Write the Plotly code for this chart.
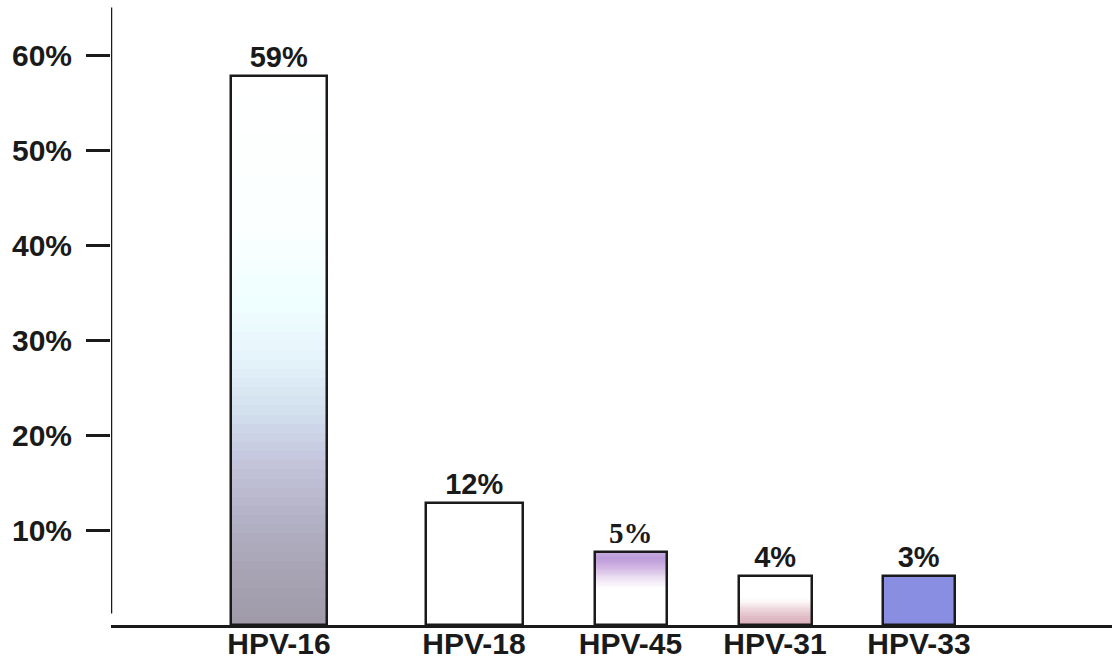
import numpy as np
import plotly.graph_objects as go

# ---- data ----
categories = ["HPV-16", "HPV-18", "HPV-45", "HPV-31", "HPV-33"]
bar_heights = [57.8, 12.8, 7.7, 5.2, 5.2]        # drawn height (% scale)
value_labels = ["59%", "12%", "5%", "4%", "3%"]   # printed labels
y_tick_vals = [10, 20, 30, 40, 50, 60]
y_tick_text = ["10%", "20%", "30%", "40%", "50%", "60%"]

# ---- layout (positions / sizes / styles) ----
bar_centers = [279, 474, 630.5, 775, 919]
bar_widths = [96, 97, 72, 73, 72]
X_LEFT, X_RIGHT = 111, 1112

# gradient colour stops: (fraction from bottom, colour)
gradients = [
    [[0, "#a09aa8"], [0.1, "#a8a4b4"], [0.2, "#b4b2c6"], [0.3, "#c4c6dc"], [0.4, "#d4e2f0"],
     [0.5, "#e8f6fc"], [0.6, "#f0ffff"], [0.72, "#fbffff"], [1, "#ffffff"]],
    [[0, "#ffffff"], [1, "#ffffff"]],
    [[0, "#ffffff"], [0.5, "#ffffff"], [0.65, "#ebdef2"], [0.8, "#cfb2e2"], [0.92, "#bb9ad8"], [1, "#c8aee0"]],
    [[0, "#d9aebb"], [0.15, "#e0bcc6"], [0.3, "#ecd4da"], [0.45, "#fbf4f5"], [0.55, "#ffffff"], [1, "#ffffff"]],
    [[0, "#8a8ee2"], [1, "#8a8ee2"]],
]
label_fonts = ["Liberation Sans", "Liberation Sans", "Liberation Serif", "Liberation Sans", "Liberation Sans"]

fig = go.Figure()

N = 60
for c, w, h, cs in zip(bar_centers, bar_widths, bar_heights, gradients):
    yedges = np.linspace(0, h, N + 1)
    z = ((yedges[:-1] + yedges[1:]) / 2 / h).reshape(-1, 1)
    fig.add_trace(go.Heatmap(
        x=[c - w / 2, c + w / 2], y=yedges, z=z, colorscale=cs, zmin=0, zmax=1,
        showscale=False, hoverinfo="skip",
    ))

fig.add_trace(go.Bar(
    x=bar_centers, y=bar_heights, width=bar_widths,
    marker=dict(color="rgba(0,0,0,0)", line=dict(color="#1a1a1a", width=2.5)),
    text=value_labels, textposition="outside", cliponaxis=False,
    constraintext="none",
    textfont=dict(family=label_fonts, size=29, color="#1a1a1a", weight="bold"),
    hoverinfo="skip", showlegend=False,
))

# y axis line (stops short of baseline)
fig.add_shape(type="line", xref="x", yref="y", x0=X_LEFT, x1=X_LEFT, y0=1.2, y1=65,
              line=dict(color="#1a1a1a", width=2.5))

fig.update_layout(
    width=1112, height=667,
    margin=dict(l=X_LEFT, r=0, t=0, b=42),
    paper_bgcolor="white", plot_bgcolor="white",
    showlegend=False,
    bargap=0,
)
fig.update_xaxes(
    range=[X_LEFT, X_RIGHT], tickvals=bar_centers, ticktext=categories,
    showline=True, linecolor="#1a1a1a", linewidth=2.5, ticks="", showgrid=False,
    zeroline=False, ticklabelstandoff=-10,
    tickfont=dict(family="Liberation Sans", size=30, color="#1a1a1a", weight="bold"),
)
fig.update_yaxes(
    range=[0, 65.8], tickvals=y_tick_vals, ticktext=y_tick_text,
    ticks="outside", ticklen=24, tickwidth=2.5, tickcolor="#1a1a1a",
    showgrid=False, zeroline=False, showline=False, ticklabelstandoff=8,
    tickfont=dict(family="Liberation Sans", size=30, color="#1a1a1a", weight="bold"),
)

fig.write_html("out.html", post_script="document.body.style.margin='0';",
               config={"displayModeBar": False})
